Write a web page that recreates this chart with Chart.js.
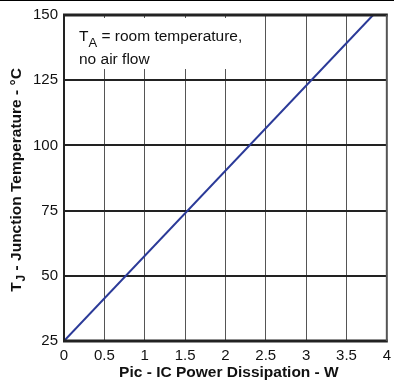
<!DOCTYPE html>
<html><head><meta charset="utf-8">
<script src="https://cdn.jsdelivr.net/npm/chart.js@4"></script>
<style>html,body{margin:0;padding:0;background:#fff}#wrap{width:397px;height:381px}</style>
</head><body><div id="wrap"><canvas id="c" width="397" height="381"></canvas></div>
<script>
const power = [0, 3.83];
const junctionTemp = [25, 150];
const xTicks = [0, 0.5, 1, 1.5, 2, 2.5, 3, 3.5, 4];
const yTicks = [25, 50, 75, 100, 125, 150];
const xTitle = 'Pic - IC Power Dissipation - W';
const yTitleMain = 'T';
const yTitleSub = 'J';
const yTitleRest = ' - Junction Temperature - °C';
const note1Main = 'T', note1Sub = 'A', note1Rest = ' = room temperature,';
const note2 = 'no air flow';

const FONT = '"Liberation Sans", Arial, sans-serif';

const decor = {
  id: 'decor',
  beforeDatasetsDraw(chart) {
    const {ctx, chartArea: a} = chart;
    ctx.save();
    ctx.fillStyle = '#fff';
    ctx.fillRect(a.left + 4, a.top + 3, 163, 51);
    ctx.restore();
  },
  afterDraw(chart) {
    const {ctx, chartArea: a} = chart;
    ctx.save();
    ctx.strokeStyle = '#222';
    ctx.lineWidth = 3;
    ctx.beginPath(); ctx.moveTo(a.left - 1, a.top); ctx.lineTo(a.right + 1, a.top); ctx.stroke();
    ctx.beginPath(); ctx.moveTo(a.left - 1, a.bottom); ctx.lineTo(a.right + 1, a.bottom); ctx.stroke();
    ctx.lineWidth = 2;
    ctx.beginPath(); ctx.moveTo(a.left, a.top); ctx.lineTo(a.left, a.bottom); ctx.stroke();
    ctx.strokeStyle = '#555';
    ctx.beginPath(); ctx.moveTo(a.right, a.top); ctx.lineTo(a.right, a.bottom); ctx.stroke();
    ctx.strokeStyle = '#000';
    ctx.lineWidth = 1;
    ctx.beginPath(); ctx.moveTo(0, 0.5); ctx.lineTo(394, 0.5); ctx.stroke();
    ctx.fillStyle = '#111';
    ctx.textBaseline = 'alphabetic';
    ctx.textAlign = 'left';
    ctx.font = '15.5px ' + FONT;
    let x = a.left + 15, y = a.top + 26;
    ctx.fillText(note1Main, x, y); x += ctx.measureText(note1Main).width;
    ctx.font = '13px ' + FONT;
    ctx.fillText(note1Sub, x, y + 6); x += ctx.measureText(note1Sub).width;
    ctx.font = '15.5px ' + FONT;
    ctx.fillText(note1Rest, x, y);
    ctx.fillText(note2, a.left + 15, a.top + 49);
    // x title
    ctx.font = 'bold 15.5px ' + FONT;
    ctx.textAlign = 'center';
    ctx.textBaseline = 'middle';
    ctx.fillText(xTitle, (a.left + a.right) / 2 + 3.5, 373);
    // y title
    ctx.textAlign = 'left';
    ctx.textBaseline = 'alphabetic';
    ctx.translate(20.5, (a.top + a.bottom) / 2 + 2);
    ctx.rotate(-Math.PI / 2);
    ctx.font = 'bold 15.5px ' + FONT;
    const w1 = ctx.measureText(yTitleMain).width + 1;
    ctx.font = 'bold 12px ' + FONT;
    const w2 = ctx.measureText(yTitleSub).width;
    ctx.font = 'bold 15.5px ' + FONT;
    const w3 = ctx.measureText(yTitleRest).width;
    let sx = -(w1 + w2 + w3) / 2;
    ctx.fillText(yTitleMain, sx, 0); sx += w1;
    ctx.font = 'bold 12px ' + FONT;
    ctx.fillText(yTitleSub, sx, 4); sx += w2;
    ctx.font = 'bold 15.5px ' + FONT;
    ctx.fillText(yTitleRest, sx, 0);
    ctx.restore();
  }
};

new Chart(document.getElementById('c'), {
  type: 'scatter',
  data: {
    datasets: [{
      data: power.map((p, i) => ({x: p, y: junctionTemp[i]})),
      showLine: true,
      borderColor: '#2b3a98',
      borderWidth: 2,
      pointRadius: 0,
      fill: false
    }]
  },
  plugins: [decor],
  options: {
    responsive: false,
    animation: false,
    devicePixelRatio: 1,
    layout: {padding: {left: 0, right: 7, top: 15, bottom: 0}},
    plugins: {legend: {display: false}, tooltip: {enabled: false}},
    scales: {
      x: {
        type: 'linear', min: 0, max: 4,
        afterBuildTicks: s => { s.ticks = xTicks.map(v => ({value: v})); },
        afterFit: s => { s.height = 40; },
        ticks: {color: '#111', font: {family: FONT, size: 15}, padding: 6,
          callback: v => String(v)},
        grid: {color: '#555', lineWidth: 1, drawTicks: false},
        border: {display: false},
        title: {display: false}
      },
      y: {
        type: 'linear', min: 25, max: 150,
        afterBuildTicks: s => { s.ticks = yTicks.map(v => ({value: v})); },
        afterFit: s => { s.width = 64; },
        ticks: {color: '#111', font: {family: FONT, size: 15}, padding: 6,
          callback: v => String(v)},
        grid: {color: '#222', lineWidth: 2, drawTicks: false},
        border: {display: false}
      }
    }
  }
});
</script>
</body></html>
